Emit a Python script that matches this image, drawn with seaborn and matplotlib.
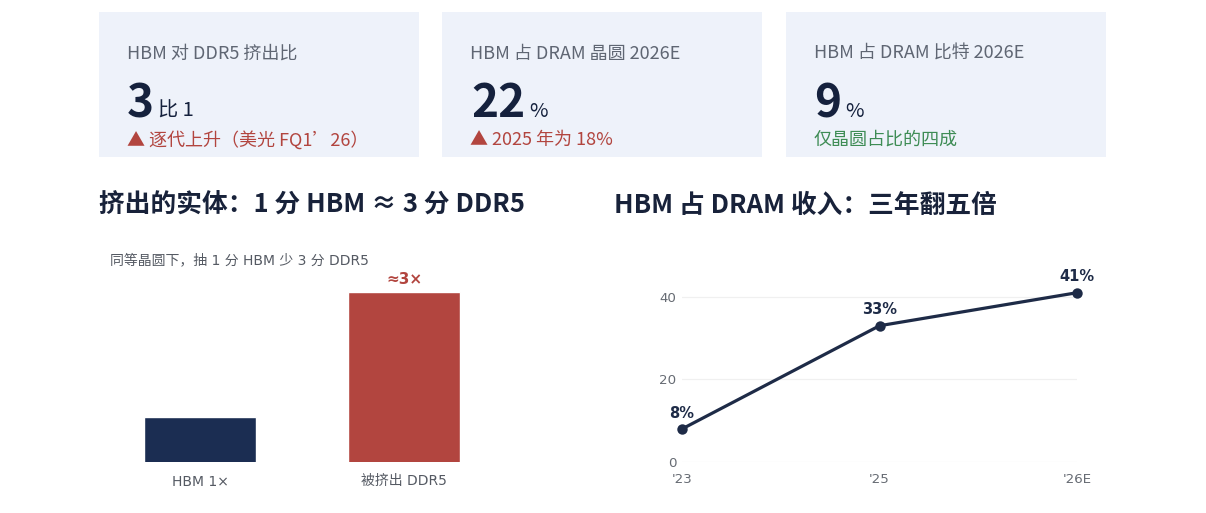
import matplotlib
matplotlib.use("Agg")
import matplotlib.pyplot as plt
from matplotlib.patches import Rectangle
import seaborn as sns
import pandas as pd

# 数据
card_labels = ["HBM 对 DDR5 挤出比", "HBM 占 DRAM 晶圆 2026E", "HBM 占 DRAM 比特 2026E"]
card_values = ["3", "22", "9"]
card_units = ["比 1", "%", "%"]
card_notes = ["▲ 逐代上升（美光 FQ1’26）", "▲ 2025 年为 18%", "仅晶圆占比的四成"]

bar_cats = ["HBM 1×", "被挤出 DDR5"]
bar_vals = [1, 3]

years = ["'23", "'25", "'26E"]
hbm_share = [8, 33, 41]

NAVY = "#1b2d52"
RED = "#b2453f"
GREEN = "#3e8c55"
GREY = "#5f6673"
CARD_BG = "#eef2fa"

sns.set_theme(style="white")
plt.rcParams["font.family"] = ["Noto Sans CJK SC", "DejaVu Sans"]
chart_font = ["DejaVu Sans", "Noto Sans CJK SC"]

W, H = 1206, 513
fig = plt.figure(figsize=(W / 100, H / 100), dpi=100)
fig.patch.set_facecolor("white")


def fx(px):
    return px / W


def fy(py):
    return 1 - py / H


# 顶部卡片
card_x = [99, 442, 786]
value_w = [[127, 158], [471, 529], [814, 845]]
note_colors = [RED, RED, GREEN]
for i in range(3):
    x0 = card_x[i]
    fig.patches.append(Rectangle((fx(x0), fy(157)), fx(320), 145 / H,
                                 transform=fig.transFigure, facecolor=CARD_BG,
                                 edgecolor="none", zorder=0))
    fig.text(fx(x0 + 28), fy(54), card_labels[i], fontsize=13, color=GREY, va="center")
    fig.text(fx(value_w[i][0]), fy(117), card_values[i], fontsize=33, color="#15213d",
             fontweight="bold", va="baseline")
    fig.text(fx(value_w[i][1]), fy(117), card_units[i], fontsize=14.5, color="#15213d",
             va="baseline")
    fig.text(fx(x0 + 28), fy(140), card_notes[i], fontsize=13, color=note_colors[i],
             va="center")

# 小标题
fig.text(fx(99), fy(205), "挤出的实体：1 分 HBM ≈ 3 分 DDR5", fontsize=18.5,
         fontweight="bold", color="#18223a", va="center")
fig.text(fx(614), fy(205), "HBM 占 DRAM 收入：三年翻五倍", fontsize=18.5,
         fontweight="bold", color="#18223a", va="center")

# 左：柱状图
ax1 = fig.add_axes([fx(98), fy(462), fx(506 - 98), (462 - 245) / H])
bar_df = pd.DataFrame({"cat": bar_cats, "val": bar_vals})
sns.barplot(data=bar_df, x="cat", y="val", hue="cat", palette=[NAVY, RED],
            width=0.55, legend=False, ax=ax1, saturation=1)
ax1.set_xlim(-0.5, 1.5)
ax1.set_ylim(0.28, 3.75)
ax1.set_xlabel("")
ax1.set_ylabel("")
ax1.set_yticks([])
sns.despine(ax=ax1, left=True, bottom=True)
ax1.tick_params(axis="x", length=0, pad=9, labelsize=10, labelcolor="#555a63")
for lab in ax1.get_xticklabels():
    lab.set_family(chart_font)
ax1.text(1, bar_vals[1] + 0.08, "≈3×", ha="center", va="bottom", fontsize=11,
         fontweight="bold", color=RED, family=chart_font)
ax1.text(0.03, 0.93, "同等晶圆下，抽 1 分 HBM 少 3 分 DDR5", transform=ax1.transAxes,
         fontsize=10, color="#555a63", va="center", family=chart_font)

# 右：折线图
ax2 = fig.add_axes([fx(682), fy(462), fx(1077 - 682), (462 - 270) / H])
line_df = pd.DataFrame({"year": years, "share": hbm_share})
sns.lineplot(data=line_df, x="year", y="share", ax=ax2, color="#1e2b47", linewidth=2.3,
             marker="o", markersize=7.5, markeredgewidth=0, clip_on=False)
ax2.set_xlim(0, 2)
ax2.set_ylim(0, 46.5)
ax2.set_yticks([0, 20, 40])
ax2.yaxis.grid(True, color="#f0f0f0", linewidth=0.9)
ax2.xaxis.grid(False)
ax2.set_xlabel("")
ax2.set_ylabel("")
sns.despine(ax=ax2, left=True, bottom=True)
ax2.tick_params(axis="both", length=0, labelsize=9.6, labelcolor="#666b73")
ax2.tick_params(axis="x", pad=8)
ax2.tick_params(axis="y", pad=4)
for lab in ax2.get_xticklabels() + ax2.get_yticklabels():
    lab.set_family(chart_font)
for i, v in enumerate(hbm_share):
    ax2.annotate(f"{v}%", (i, v), xytext=(0, 6), textcoords="offset points",
                 ha="center", va="bottom", fontsize=10.5, fontweight="bold",
                 color="#1e2b47", family=chart_font, annotation_clip=False)

fig.savefig("out.png", dpi=100, facecolor="white")
